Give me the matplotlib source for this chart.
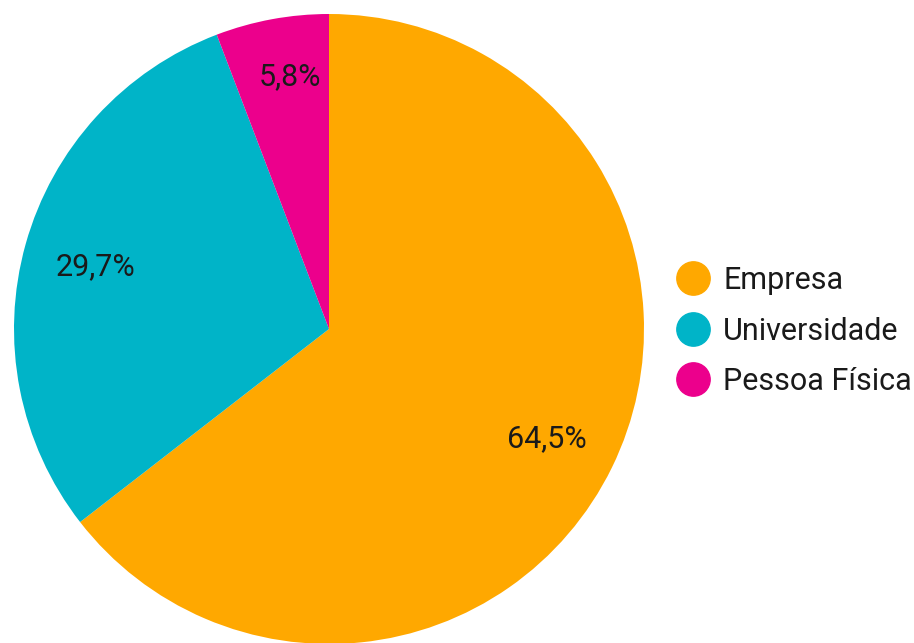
import matplotlib
matplotlib.use("Agg")
import matplotlib.pyplot as plt
from matplotlib.lines import Line2D
import numpy as np

plt.rcParams['font.family'] = ['Roboto', 'DejaVu Sans']

categories = ["Empresa", "Universidade", "Pessoa Física"]
values = [64.5, 29.7, 5.8]
value_labels = ["64,5%", "29,7%", "5,8%"]
colors = ["#FFA800", "#00B4C8", "#EC008C"]
label_dist = [0.77, 0.77, 0.82]
label_turn = [0.0, 0.0, -1.8]  # small angular nudge in degrees

W, H = 914, 643
fig = plt.figure(figsize=(W / 100, H / 100), dpi=100)

# square pie axes: center (329, 329) px, radius 315 px
cx, cy, r = 329, 329, 315
ax = fig.add_axes([(cx - r) / W, (H - cy - r) / H, 2 * r / W, 2 * r / H])
wedges, _ = ax.pie(values, colors=colors, startangle=90, counterclock=False,
                   radius=1.0, wedgeprops=dict(linewidth=0))
ax.set_xlim(-1, 1)
ax.set_ylim(-1, 1)
ax.set_aspect('equal')
ax.axis('off')

for w, lab, d, t in zip(wedges, value_labels, label_dist, label_turn):
    ang = np.deg2rad((w.theta1 + w.theta2) / 2 + t)
    ax.text(d * np.cos(ang), d * np.sin(ang), lab, ha='center',
            va='center_baseline', fontsize=22, color='#1a1a1a')

handles = [Line2D([], [], marker='o', linestyle='none', markersize=24,
                  markerfacecolor=c, markeredgecolor=c) for c in colors]
fig.legend(handles, categories, loc='center left',
           bbox_to_anchor=(678 / W, 1 - 331 / H), frameon=False,
           fontsize=22, labelcolor='#1a1a1a', handletextpad=0.48,
           labelspacing=0.70, handlelength=1.0, borderpad=0, borderaxespad=0)

fig.savefig("out.png", dpi=100)
